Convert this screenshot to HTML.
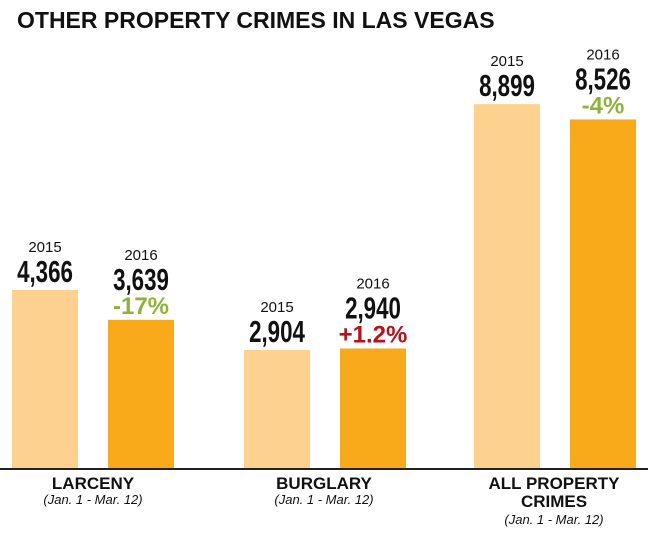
<!DOCTYPE html>
<html><head><meta charset="utf-8"><style>
body{margin:0;background:#fff;width:653px;height:534px;overflow:hidden;font-family:"Liberation Sans",sans-serif}
svg{display:block}
.yr{font-size:15px;fill:#111}
.val{font-size:31px;fill:#111;font-weight:bold}
.cat{font-size:17px;font-weight:bold;fill:#111}
.sub{font-size:13px;font-style:italic;fill:#111}
.pct{font-size:24px;font-weight:900}
</style></head><body>
<svg width="653" height="534">
<text x="17" y="28" font-size="23" font-weight="900" fill="#111">OTHER PROPERTY CRIMES IN LAS VEGAS</text>
<g id="bars"></g>
<line x1="0" y1="469" x2="648" y2="469" stroke="#222" stroke-width="2"/>
<text class="cat" x="93" y="489" text-anchor="middle">LARCENY</text>
<text class="sub" x="93" y="504" text-anchor="middle">(Jan. 1 - Mar. 12)</text>
<text class="cat" x="324" y="489" text-anchor="middle">BURGLARY</text>
<text class="sub" x="324" y="504" text-anchor="middle">(Jan. 1 - Mar. 12)</text>
<text class="cat" x="554" y="489" text-anchor="middle">ALL PROPERTY</text>
<text class="cat" x="554" y="507" text-anchor="middle">CRIMES</text>
<text class="sub" x="554" y="524" text-anchor="middle">(Jan. 1 - Mar. 12)</text>
</svg>
<script>
const categories=["LARCENY","BURGLARY","ALL PROPERTY CRIMES"];
const values2015=[4366,2904,8899];
const values2016=[3639,2940,8526];
const changes=["-17%","+1.2%","-4%"];
const NS="http://www.w3.org/2000/svg";
const base=469, yScale=v=>base-v*0.041;
const groupX=i=>[12,244,474][i];
const g=document.getElementById('bars');
function add(tag,attrs,text){const e=document.createElementNS(NS,tag);for(const k in attrs)e.setAttribute(k,attrs[k]);if(text!==undefined)e.textContent=text;g.appendChild(e);return e;}
categories.forEach((c,i)=>{
  [[values2015[i],"#FDD28E","2015",0],[values2016[i],"#F9AA1B","2016",96]].forEach(([v,col,yr,off])=>{
    const x=groupX(i)+off, y=yScale(v), cx=x+33;
    const r=add('rect',{x:x,y:y,width:66,height:base-y,fill:col});
    
    
    let ty=y-8;
    if(yr==="2016"){
      const p=add('text',{x:cx,y:y-6,'text-anchor':'middle',class:'pct',fill:changes[i].startsWith('+')?'#B5121B':'#8DB33A'},changes[i]);
      
      
      ty=y-30;
    }
    const t=add('text',{x:cx,y:ty,'text-anchor':'middle',class:'val',transform:`translate(${cx} 0) scale(0.72 1) translate(${-cx} 0)`},v.toLocaleString('en-US'));
    
    
    const yl=add('text',{x:cx,y:ty-30,'text-anchor':'middle',class:'yr'},yr);
    
    
  });
});
</script>
</body></html>
